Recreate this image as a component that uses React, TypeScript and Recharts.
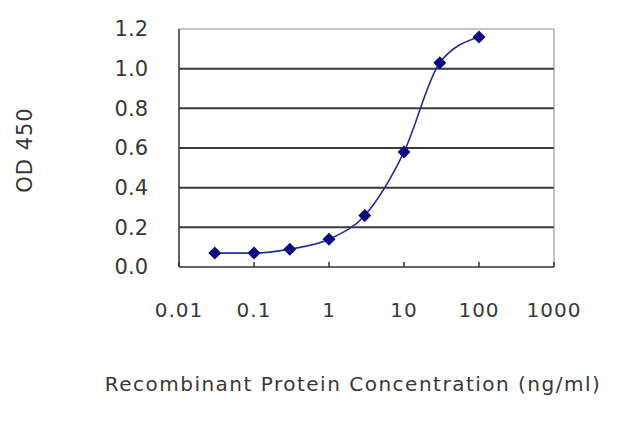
import React from 'react';
import { LineChart, Line, XAxis, YAxis, ReferenceLine } from 'recharts';

const concentrations = [0.03, 0.1, 0.3, 1, 3, 10, 30, 100];
const odValues = [0.07, 0.07, 0.09, 0.14, 0.26, 0.58, 1.03, 1.16];
const xTicks = [0.01, 0.1, 1, 10, 100, 1000];
const xTickLabels = ['0.01', '0.1', '1', '10', '100', '1000'];
const yTicks = [0, 0.2, 0.4, 0.6, 0.8, 1.0, 1.2];
const innerGridValues = [0.2, 0.4, 0.6, 0.8, 1.0];
const xTitle = 'Recombinant Protein Concentration (ng/ml)';
const yTitle = 'OD 450';

const data = concentrations.map((c, i) => ({ conc: c, od: odValues[i] }));

const FONT = "'DejaVu Sans', sans-serif";
const TEXT = '#383838';

const Diamond = (props: any) => {
  const { cx, cy } = props;
  if (cx == null || cy == null) return null;
  const r = 6.5;
  return (
    <polygon
      points={`${cx},${cy - r} ${cx + r},${cy} ${cx},${cy + r} ${cx - r},${cy}`}
      fill="#0b0b7e"
    />
  );
};

const XTick = (props: any) => {
  const { x, y, payload } = props;
  const idx = xTicks.indexOf(payload.value);
  const label = idx >= 0 ? xTickLabels[idx] : String(payload.value);
  return (
    <g>
      <line x1={x} x2={x} y1={y} y2={y - 5} stroke="#333" strokeWidth={1.5} />
      <text
        x={x}
        y={y + 43}
        dy="0.36em"
        textAnchor="middle"
        fontFamily={FONT}
        fontSize={20}
        letterSpacing={1}
        fill={TEXT}
      >
        {label}
      </text>
    </g>
  );
};

export default function App() {
  return (
    <div style={{ position: 'absolute', left: 0, top: 0, width: 640, height: 427, background: '#fff' }}>
      <LineChart
        width={640}
        height={427}
        data={data}
        margin={{ top: 29, right: 86, left: 0, bottom: 0 }}
      >
        <XAxis
          dataKey="conc"
          type="number"
          scale="log"
          domain={[0.01, 1000]}
          ticks={xTicks}
          allowDataOverflow
          height={160}
          tickSize={0}
          tickMargin={0}
          tickLine={false}
          tick={<XTick />}
          axisLine={{ stroke: '#333', strokeWidth: 1.5 }}
          label={{
            content: () => (
              <text
                x={353}
                y={384}
                dy="0.36em"
                textAnchor="middle"
                fontFamily={FONT}
                fontSize={20}
                letterSpacing={1.5}
                fill={TEXT}
              >
                {xTitle}
              </text>
            ),
          }}
        />
        <YAxis
          type="number"
          domain={[0, 1.2]}
          ticks={yTicks}
          width={179}
          tickSize={0}
          tickMargin={31}
          tickLine={false}
          tickFormatter={(v: number) => v.toFixed(1)}
          tick={{ fontFamily: FONT, fontSize: 21, fill: TEXT }}
          axisLine={{ stroke: '#333', strokeWidth: 1.5 }}
          label={{
            content: () => (
              <text
                x={24}
                y={150}
                dy="0.36em"
                textAnchor="middle"
                transform="rotate(-90 24 150)"
                fontFamily={FONT}
                fontSize={21}
                letterSpacing={1}
                fill={TEXT}
              >
                {yTitle}
              </text>
            ),
          }}
        />
        {innerGridValues.map((v) => (
          <ReferenceLine key={v} y={v} stroke="#3a3a3a" strokeWidth={2} />
        ))}
        <ReferenceLine y={1.2} stroke="#8a8a8a" strokeWidth={1} />
        <ReferenceLine x={1000} stroke="#8a8a8a" strokeWidth={1} />
        <Line
          dataKey="od"
          type="monotone"
          stroke="#2a2a9e"
          strokeWidth={1.6}
          dot={<Diamond />}
          activeDot={false}
          isAnimationActive={false}
        />
      </LineChart>
    </div>
  );
}
